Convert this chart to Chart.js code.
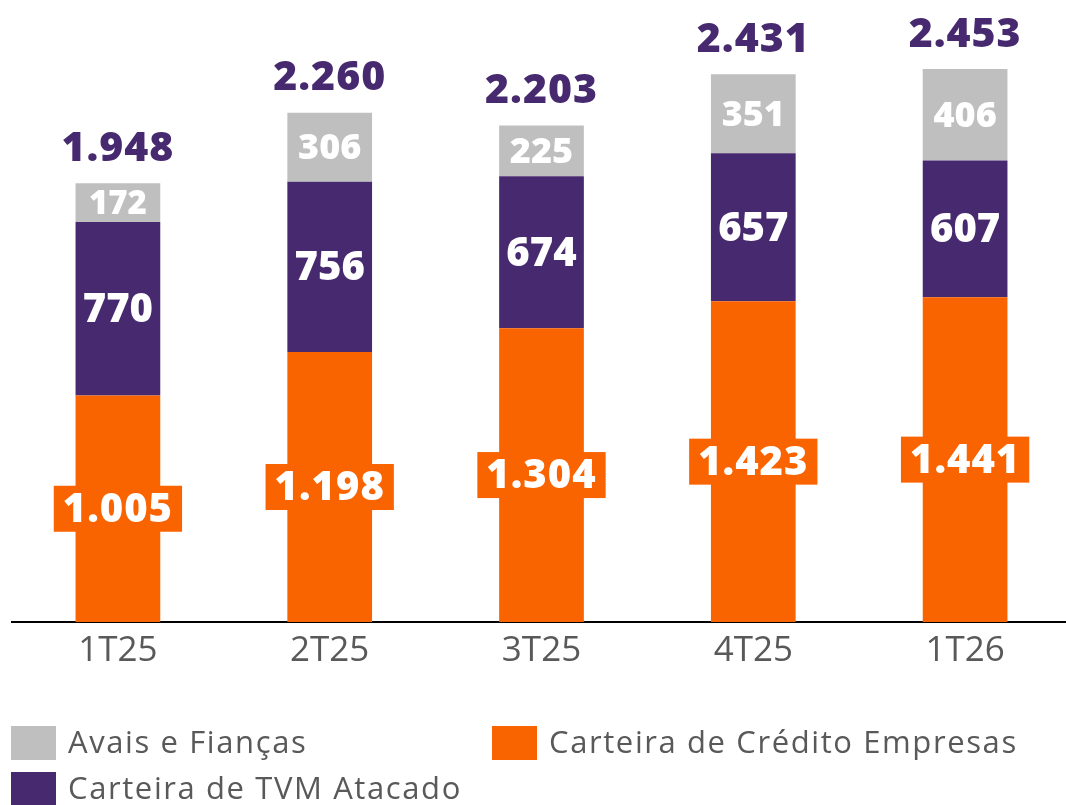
<!DOCTYPE html>
<html>
<head>
<meta charset="utf-8">
<script src="https://cdn.jsdelivr.net/npm/chart.js@4.4.1/dist/chart.umd.min.js"></script>
<style>
  html, body { margin: 0; padding: 0; background: #fff; overflow: hidden; }
  #wrap { width: 1066px; height: 805px; position: relative; overflow: hidden; }
</style>
</head>
<body>
<div id="wrap"><canvas id="myChart" width="1071" height="805"></canvas></div>
<script>
const categorias = ['1T25', '2T25', '3T25', '4T25', '1T26']
const creditoEmpresas = [1005, 1198, 1304, 1423, 1441]
const tvmAtacado = [770, 756, 674, 657, 607]
const avaisFiancas = [172, 306, 225, 351, 406]
const totais = [1948, 2260, 2203, 2431, 2453]

const LARANJA = '#FA6400'
const ROXO = '#46296E'
const CINZA = '#BFBFBF'
const TEXTO = '#595959'
const FONTE = "'Open Sans', 'Noto Sans', sans-serif"

const fmt = (v) => v.toLocaleString('pt-BR')

// rotulos dentro das barras e totais
const rotulos = {
  id: 'rotulos',
  afterDatasetsDraw(chart) {
    const ctx = chart.ctx
    ctx.save()
    ctx.textAlign = 'center'
    ctx.textBaseline = 'middle'
    chart.data.datasets.forEach((ds, di) => {
      const meta = chart.getDatasetMeta(di)
      meta.data.forEach((bar, i) => {
        const txt = fmt(ds.data[i])
        const yMid = (bar.y + bar.base) / 2
        const size = di === 2 ? (ds.data[i] < 200 ? 33 : 36) : 40
        ctx.font = `800 ${size}px ${FONTE}`
        ctx.letterSpacing = di === 0 ? '1px' : '0px'
        if (di === 0) {
          const w = ctx.measureText(txt).width + 18
          ctx.fillStyle = LARANJA
          ctx.fillRect(bar.x - w / 2, yMid - 23, w, 46)
        }
        ctx.fillStyle = '#fff'
        ctx.fillText(txt, bar.x, yMid + 2)
      })
    })
    const top = chart.getDatasetMeta(2)
    ctx.font = `800 41px ${FONTE}`
    ctx.letterSpacing = '1px'
    ctx.fillStyle = ROXO
    top.data.forEach((bar, i) => {
      ctx.fillText(fmt(totais[i]), bar.x, bar.y - 34)
    })
    ctx.restore()
  }
}

// legenda desenhada embaixo
const legenda = {
  id: 'legenda',
  afterDraw(chart) {
    const ctx = chart.ctx
    const pos = [
      { ds: 2, x: 11, y: 726 },
      { ds: 0, x: 492, y: 726 },
      { ds: 1, x: 11, y: 772 }
    ]
    ctx.save()
    ctx.font = `31px ${FONTE}`
    ctx.letterSpacing = '1.6px'
    ctx.textBaseline = 'middle'
    ctx.textAlign = 'left'
    pos.forEach(p => {
      const ds = chart.data.datasets[p.ds]
      ctx.fillStyle = ds.backgroundColor
      ctx.fillRect(p.x, p.y, 45, 34)
      ctx.fillStyle = TEXTO
      ctx.fillText(ds.label, p.x + 57, p.y + 18)
    })
    ctx.restore()
  }
}

const ctx = document.getElementById('myChart').getContext('2d')
new Chart(ctx, {
  type: 'bar',
  data: {
    labels: categorias,
    datasets: [
      { label: 'Carteira de Crédito Empresas', data: creditoEmpresas, backgroundColor: LARANJA },
      { label: 'Carteira de TVM Atacado', data: tvmAtacado, backgroundColor: ROXO },
      { label: 'Avais e Fianças', data: avaisFiancas, backgroundColor: CINZA }
    ]
  },
  options: {
    responsive: false,
    animation: false,
    layout: { padding: { left: 12, right: 0, top: 0, bottom: 0 } },
    datasets: { bar: { categoryPercentage: 1, barPercentage: 0.4 } },
    plugins: { legend: { display: false }, tooltip: { enabled: false } },
    scales: {
      x: {
        stacked: true,
        grid: { display: false, drawTicks: false },
        border: { display: true, color: '#000', width: 2 },
        ticks: { color: TEXTO, font: { family: FONTE, size: 35 }, padding: 8 },
        afterFit: (s) => { s.height = 183 }
      },
      y: {
        stacked: true,
        display: false,
        min: 0,
        max: 2760
      }
    }
  },
  plugins: [rotulos, legenda]
})
</script>
</body>
</html>
